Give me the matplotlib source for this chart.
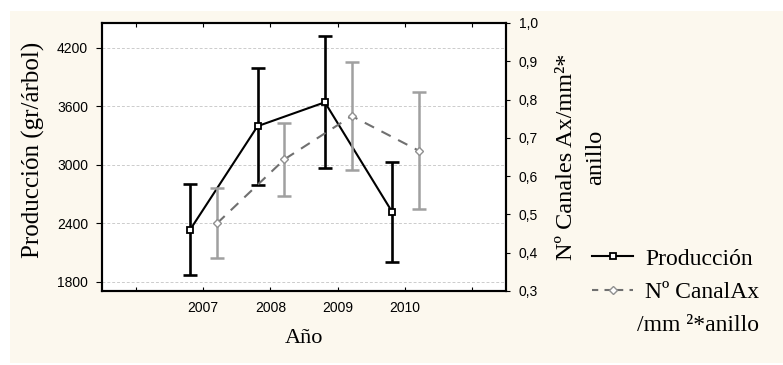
import matplotlib.pyplot as plt
from matplotlib.patches import Rectangle
from matplotlib.lines import Line2D
import numpy as np

# data
years = ["2007", "2008", "2009", "2010"]
produccion = [2335, 3395, 3640, 2515]
produccion_err = [470, 600, 675, 513]
canales = [0.477, 0.644, 0.757, 0.666]
canales_err = [0.092, 0.095, 0.142, 0.153]

left_ticks = [1800, 2400, 3000, 3600, 4200]
right_ticks = [0.3, 0.4, 0.5, 0.6, 0.7, 0.8, 0.9, 1.0]

sans = "Liberation Sans"
serif = "Liberation Serif"
cream = "#fcf8ee"

fig = plt.figure(figsize=(7.83, 3.65), dpi=100)
fig.patch.set_facecolor("white")
fig.patches.append(Rectangle((10 / 783, 2 / 365), 773 / 783, 352 / 365,
                             transform=fig.transFigure, facecolor=cream,
                             edgecolor="none", zorder=-10))

ax = fig.add_axes([102 / 783, 74 / 365, 404 / 783, 268 / 365])
ax.set_facecolor("white")
ax2 = ax.twinx()

x = np.arange(len(years))
xp = x - 0.19
xc = x + 0.21

# Producción (left axis)
ax.errorbar(xp, produccion, yerr=produccion_err, fmt="none", ecolor="black",
            elinewidth=1.9, capsize=4.7, capthick=1.9, zorder=3)
ax.plot(xp, produccion, color="black", lw=1.5, marker="s", ms=4,
        mfc="white", mec="black", mew=1.3, zorder=4)

# Nº canales (right axis)
ax2.errorbar(xc, canales, yerr=canales_err, fmt="none", ecolor="#a0a0a0",
             elinewidth=1.8, capsize=4.7, capthick=1.8, zorder=3)
ax2.plot(xc, canales, color="#707070", lw=1.5, ls=(0, (5, 4)), marker="D",
         ms=4.5, mfc="white", mec="#909090", mew=1.0, zorder=4)

ax.set_xlim(-1.5, 4.5)
ax.set_xticks(np.arange(-1, 5))
ax.set_xticklabels([""] + years + [""], fontfamily=sans, fontsize=10)
ax.set_ylim(1705, 4453)
ax.set_yticks(left_ticks)
ax.set_yticklabels([str(t) for t in left_ticks], fontfamily=sans, fontsize=10)
ax2.set_ylim(0.3, 1.0)
ax2.set_yticks(right_ticks)
ax2.set_yticklabels([f"{t:.1f}".replace(".", ",") for t in right_ticks],
                    fontfamily=sans, fontsize=10)

ax.grid(axis="y", color="#cccccc", ls=(0, (3, 2)), lw=0.7)
ax.tick_params(axis="x", direction="in", length=3, top=True, pad=7)
ax.tick_params(axis="y", direction="out", length=4, pad=6)
ax2.tick_params(axis="y", direction="out", length=3, pad=6)
for a in (ax, ax2):
    for s in a.spines.values():
        s.set_linewidth(1.5)
        s.set_color("black")

ax.set_xlabel("Año", fontfamily=serif, fontsize=16, labelpad=10)
ax.set_ylabel("Producción (gr/árbol)", fontfamily=serif, fontsize=18)
ax.yaxis.set_label_coords(-0.14, 0.525)
ax2.set_ylabel("Nº Canales Ax/mm²*\nanillo", fontfamily=serif, fontsize=17.5,
               labelpad=13, linespacing=1.55)

handles = [
    Line2D([], [], color="black", lw=1.5, marker="s", ms=4, mfc="white", mec="black", mew=1.3),
    Line2D([], [], color="#707070", lw=1.5, ls=(0, (3, 3)), marker="D", ms=4.5,
           mfc="white", mec="#909090", mew=1.0),
    Line2D([], [], alpha=0),
]
labels = ["Producción", "Nº CanalAx", "/mm ²*anillo"]
leg = fig.legend(handles, labels, loc="upper left", bbox_to_anchor=(592 / 783, 1 - 248 / 365),
                 frameon=False, prop={"family": serif, "size": 17}, handlelength=1.75,
                 handletextpad=0.5, labelspacing=0.5, borderpad=0, borderaxespad=0)
leg.get_texts()[2].set_x(-8)

fig.savefig("out.png", dpi=100)
